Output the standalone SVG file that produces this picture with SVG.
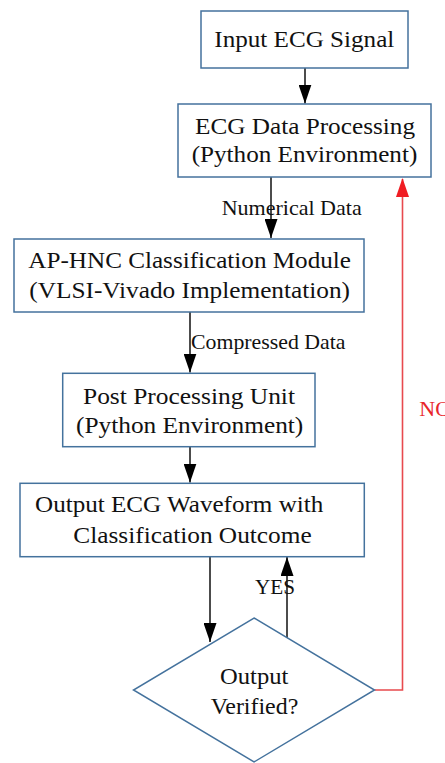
<svg xmlns="http://www.w3.org/2000/svg" width="445" height="763" viewBox="0 0 445 763">
<defs>
<style>
.box{fill:#fff;stroke:#44729d;stroke-width:1.5}
.t{font-family:"Liberation Serif","Times New Roman",serif;font-size:24px;fill:#111}
.lbl{font-family:"Liberation Serif","Times New Roman",serif;font-size:22px;fill:#111}
.no{font-family:"Liberation Serif","Times New Roman",serif;font-size:22px;fill:#e8262b}
.c{fill:none;stroke:#111;stroke-width:1.5}
.r{fill:none;stroke:#e84a4e;stroke-width:1.6}
</style>
<marker id="ab" markerUnits="userSpaceOnUse" viewBox="0 0 19 13" refX="19" refY="6.5" markerWidth="19" markerHeight="13" orient="auto">
<path d="M0,0 L19,6.5 L0,13 z" fill="#000"/>
</marker>
<marker id="ar" markerUnits="userSpaceOnUse" viewBox="0 0 19 13" refX="19" refY="6.5" markerWidth="19" markerHeight="13" orient="auto">
<path d="M0,0 L19,6.5 L0,13 z" fill="#f01d23"/>
</marker>
</defs>
<rect width="445" height="763" fill="#fff"/>
<g id="connectors">
<line class="c" x1="305" y1="68" x2="305" y2="103.5" marker-end="url(#ab)"/>
<line class="c" x1="271" y1="177" x2="271" y2="238" marker-end="url(#ab)"/>
<line class="c" x1="190" y1="312" x2="190" y2="372.5" marker-end="url(#ab)"/>
<line class="c" x1="190" y1="446.5" x2="190" y2="482.5" marker-end="url(#ab)"/>
<line class="c" x1="210" y1="556.5" x2="210" y2="642" marker-end="url(#ab)"/>
<line class="c" x1="287" y1="638" x2="287" y2="557" marker-end="url(#ab)"/>
<polyline class="r" points="374.5,690 402.5,690 402.5,179"/>
<line x1="402.5" y1="200" x2="402.5" y2="178" stroke="none" marker-end="url(#ar)"/>
<text class="lbl" x="221.7" y="215" textLength="140" lengthAdjust="spacingAndGlyphs">Numerical Data</text>
<text class="lbl" x="191" y="349" textLength="154.5" lengthAdjust="spacingAndGlyphs">Compressed Data</text>
<text class="lbl" x="255" y="594" textLength="40" lengthAdjust="spacingAndGlyphs">YES</text>
<text class="no" x="419.3" y="416">NO</text>
</g>
<g id="input">
<rect class="box" x="201" y="11" width="207" height="57"/>
<text class="t" x="214.3" y="47" textLength="180" lengthAdjust="spacingAndGlyphs">Input ECG Signal</text>
</g>
<g id="processing">
<rect class="box" x="178" y="104" width="253" height="73"/>
<text class="t" x="195" y="134" textLength="220" lengthAdjust="spacingAndGlyphs">ECG Data Processing</text>
<text class="t" x="191.7" y="162" textLength="225.6" lengthAdjust="spacingAndGlyphs">(Python Environment)</text>
</g>
<g id="classification">
<rect class="box" x="14" y="239" width="350" height="73"/>
<text class="t" x="28.3" y="268" textLength="322.7" lengthAdjust="spacingAndGlyphs">AP-HNC Classification Module</text>
<text class="t" x="29.3" y="297.5" textLength="320.7" lengthAdjust="spacingAndGlyphs">(VLSI-Vivado Implementation)</text>
</g>
<g id="postprocessing">
<rect class="box" x="62.7" y="373.3" width="252.3" height="73.4"/>
<text class="t" x="83" y="403.5" textLength="212" lengthAdjust="spacingAndGlyphs">Post Processing Unit</text>
<text class="t" x="76" y="432.5" textLength="227.3" lengthAdjust="spacingAndGlyphs">(Python Environment)</text>
</g>
<g id="output">
<rect class="box" x="20" y="483.3" width="344.3" height="73.4"/>
<text class="t" x="35" y="512" textLength="288.3" lengthAdjust="spacingAndGlyphs">Output ECG Waveform with</text>
<text class="t" x="73.3" y="542.5" textLength="238.4" lengthAdjust="spacingAndGlyphs">Classification Outcome</text>
</g>
<g id="decision">
<polygon class="box" points="254,618 374.5,690 254,762 133.5,690"/>
<text class="t" x="220" y="683.5" textLength="68.3" lengthAdjust="spacingAndGlyphs">Output</text>
<text class="t" x="210.7" y="713.5" textLength="87.6" lengthAdjust="spacingAndGlyphs">Verified?</text>
</g>
</svg>
